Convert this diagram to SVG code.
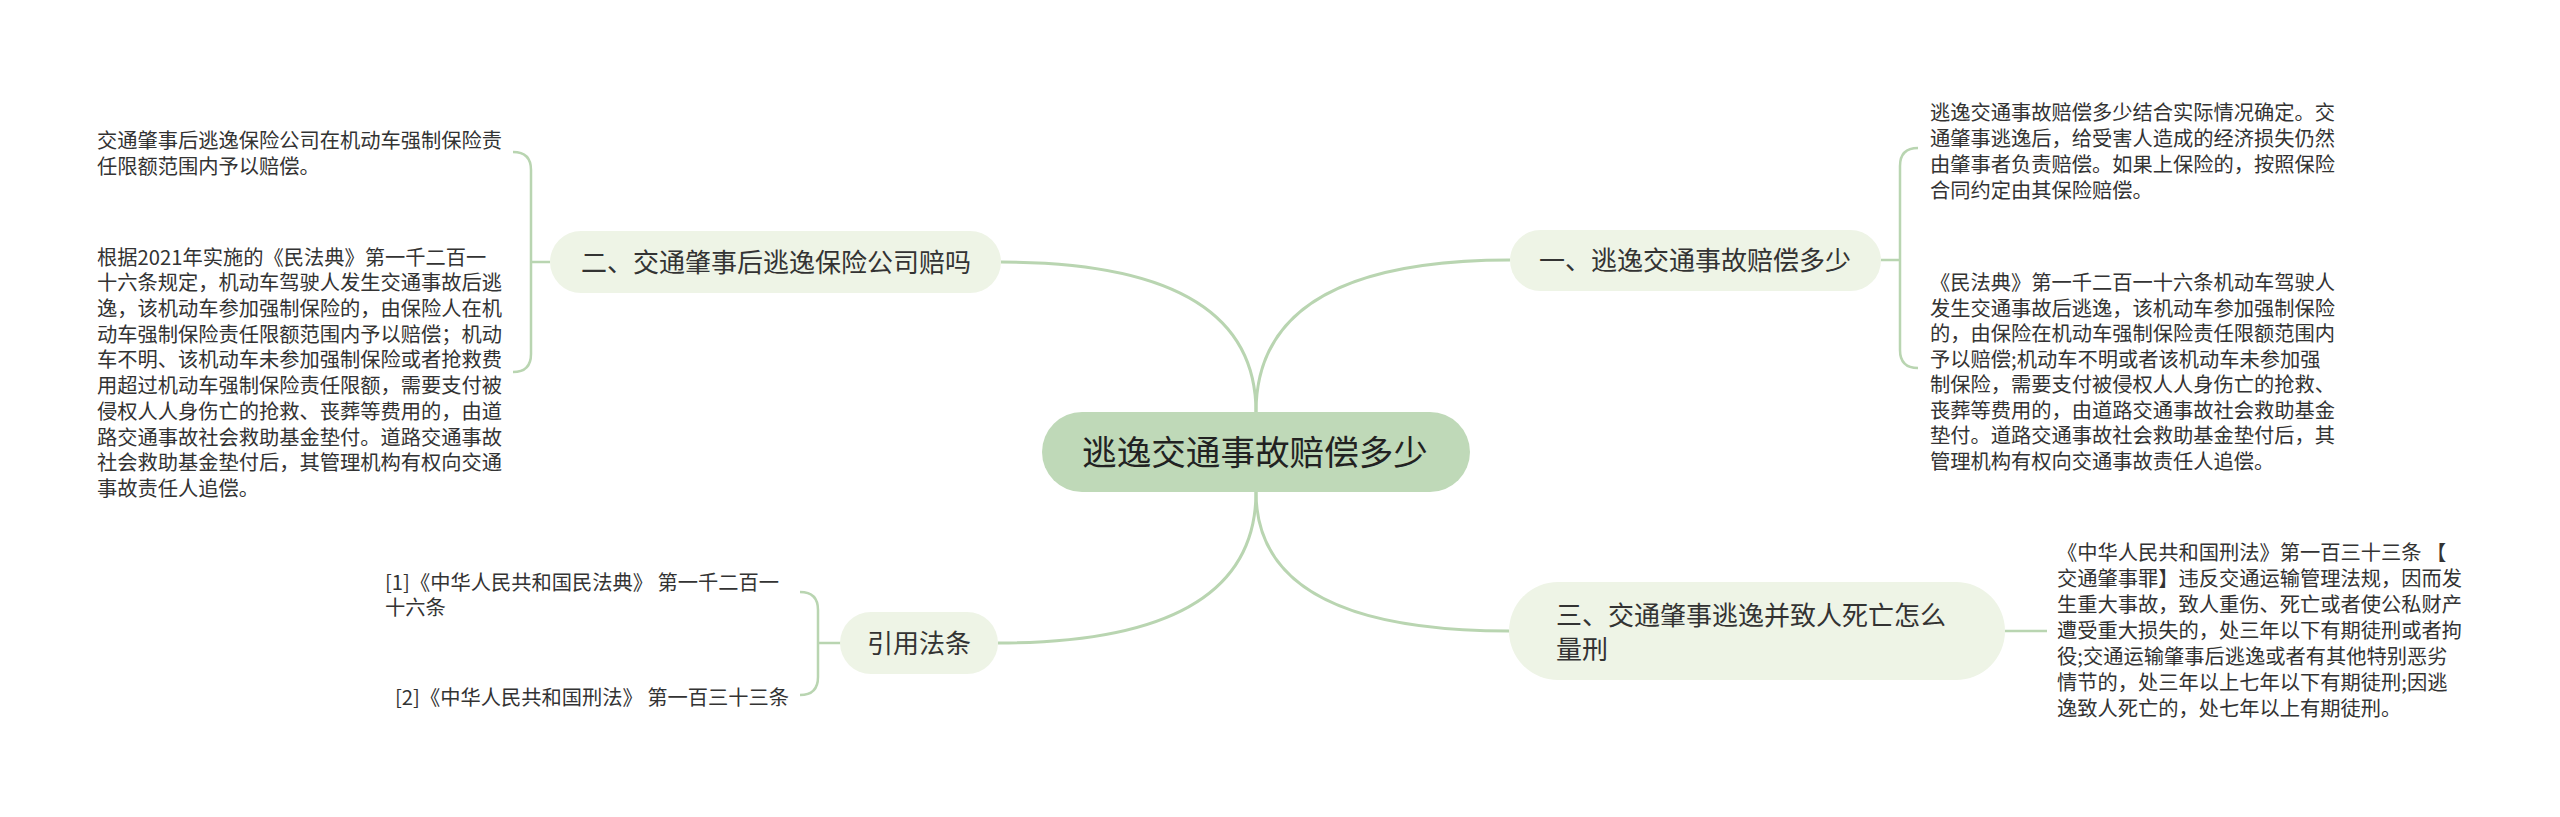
<svg xmlns="http://www.w3.org/2000/svg" width="2560" height="817" viewBox="0 0 2560 817">
<style>
text{font-family:"Noto Sans CJK SC","Noto Sans",sans-serif;fill:#333}
.leaf{font-size:20.25px}
.l1{font-size:26px}
.root{font-size:34.6px;fill:#222}
.l1box{fill:#eef4e6}
.rootbox{fill:#bfd9b8}
.con{fill:none;stroke:#b9d5b1;stroke-width:3}
.br{fill:none;stroke:#b9d5b1;stroke-width:2.5}
</style>
<rect width="2560" height="817" fill="#ffffff"/>
<g id="connectors">
<path class="con" d="M1256,412 Q1256,262 1001,262"/>
<path class="con" d="M1256,412 Q1256,260 1510,260"/>
<path class="con" d="M1256,492 Q1256,643 998,643"/>
<path class="con" d="M1256,492 Q1256,631 1509,631"/>
<path class="br" d="M550,262 H531 M531,262 V170 Q531,152 513,152 M531,262 V354 Q531,372 513,372"/>
<path class="br" d="M1881,260 H1900 M1900,260 V166 Q1900,148 1918,148 M1900,260 V350 Q1900,368 1918,368"/>
<path class="br" d="M841,643 H818 M818,643 V610 Q818,592 800,592 M818,643 V677 Q818,695 800,695"/>
<path class="br" d="M2005,631 H2047"/>
</g>
<g id="root">
<rect class="rootbox" x="1042" y="412" width="428" height="80" rx="40"/>
<text class="root" x="1255" y="465" text-anchor="middle">逃逸交通事故赔偿多少</text>
</g>
<g id="n2">
<rect class="l1box" x="550" y="231" width="451" height="62" rx="31"/>
<text class="l1" x="776" y="272" text-anchor="middle">二、交通肇事后逃逸保险公司赔吗</text>
</g>
<g id="n2a">
<text class="leaf"><tspan x="97" y="147.5">交通肇事后逃逸保险公司在机动车强制保险责</tspan><tspan x="97" y="174.2">任限额范围内予以赔偿。</tspan></text>
</g>
<g id="n2b">
<text class="leaf"><tspan x="97" y="264.6">根据2021年实施的《民法典》第一千二百一</tspan><tspan x="97" y="290.3">十六条规定，机动车驾驶人发生交通事故后逃</tspan><tspan x="97" y="316">逸，该机动车参加强制保险的，由保险人在机</tspan><tspan x="97" y="341.7">动车强制保险责任限额范围内予以赔偿；机动</tspan><tspan x="97" y="367.4">车不明、该机动车未参加强制保险或者抢救费</tspan><tspan x="97" y="393.1">用超过机动车强制保险责任限额，需要支付被</tspan><tspan x="97" y="418.8">侵权人人身伤亡的抢救、丧葬等费用的，由道</tspan><tspan x="97" y="444.5">路交通事故社会救助基金垫付。道路交通事故</tspan><tspan x="97" y="470.2">社会救助基金垫付后，其管理机构有权向交通</tspan><tspan x="97" y="495.9">事故责任人追偿。</tspan></text>
</g>
<g id="n1">
<rect class="l1box" x="1510" y="230" width="371" height="61" rx="30.5"/>
<text class="l1" x="1695" y="270" text-anchor="middle">一、逃逸交通事故赔偿多少</text>
</g>
<g id="n1a">
<text class="leaf"><tspan x="1930" y="120">逃逸交通事故赔偿多少结合实际情况确定。交</tspan><tspan x="1930" y="146">通肇事逃逸后，给受害人造成的经济损失仍然</tspan><tspan x="1930" y="172">由肇事者负责赔偿。如果上保险的，按照保险</tspan><tspan x="1930" y="198">合同约定由其保险赔偿。</tspan></text>
</g>
<g id="n1b">
<text class="leaf"><tspan x="1930" y="290">《民法典》第一千二百一十六条机动车驾驶人</tspan><tspan x="1930" y="315.5">发生交通事故后逃逸，该机动车参加强制保险</tspan><tspan x="1930" y="341">的，由保险在机动车强制保险责任限额范围内</tspan><tspan x="1930" y="366.5">予以赔偿;机动车不明或者该机动车未参加强</tspan><tspan x="1930" y="392">制保险，需要支付被侵权人人身伤亡的抢救、</tspan><tspan x="1930" y="417.5">丧葬等费用的，由道路交通事故社会救助基金</tspan><tspan x="1930" y="443">垫付。道路交通事故社会救助基金垫付后，其</tspan><tspan x="1930" y="468.5">管理机构有权向交通事故责任人追偿。</tspan></text>
</g>
<g id="n3">
<rect class="l1box" x="1509" y="582" width="496" height="98" rx="49"/>
<text class="l1"><tspan x="1556" y="625">三、交通肇事逃逸并致人死亡怎么</tspan><tspan x="1556" y="659">量刑</tspan></text>
</g>
<g id="n3a">
<text class="leaf"><tspan x="2057" y="560">《中华人民共和国刑法》第一百三十三条 【</tspan><tspan x="2057" y="586">交通肇事罪】违反交通运输管理法规，因而发</tspan><tspan x="2057" y="612">生重大事故，致人重伤、死亡或者使公私财产</tspan><tspan x="2057" y="638">遭受重大损失的，处三年以下有期徒刑或者拘</tspan><tspan x="2057" y="664">役;交通运输肇事后逃逸或者有其他特别恶劣</tspan><tspan x="2057" y="690">情节的，处三年以上七年以下有期徒刑;因逃</tspan><tspan x="2057" y="716">逸致人死亡的，处七年以上有期徒刑。</tspan></text>
</g>
<g id="n4">
<rect class="l1box" x="840" y="612" width="158" height="62" rx="31"/>
<text class="l1" x="919" y="653" text-anchor="middle">引用法条</text>
</g>
<g id="n4a">
<text class="leaf"><tspan x="385" y="589.5">[1]《中华人民共和国民法典》 第一千二百一</tspan><tspan x="385" y="614.5">十六条</tspan></text>
</g>
<g id="n4b">
<text class="leaf" x="395" y="704.5">[2]《中华人民共和国刑法》 第一百三十三条</text>
</g>
</svg>
